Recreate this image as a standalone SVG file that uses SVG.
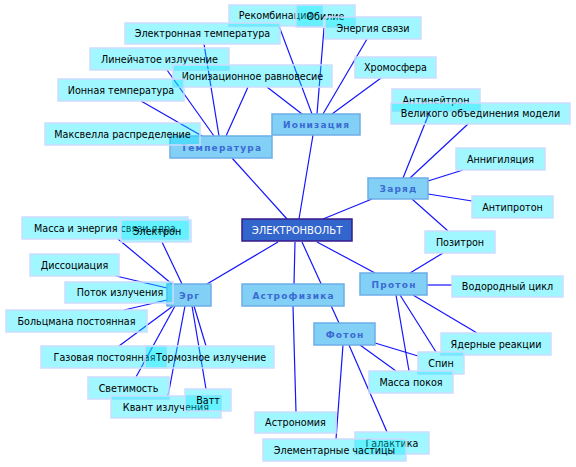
<svg xmlns="http://www.w3.org/2000/svg" width="576" height="467" viewBox="0 0 576 467">
<style>
.edge line{stroke:#1414ff;stroke-width:1.2;fill:none}
.root rect{fill:#3366cc;stroke:#3a1a8c;stroke-width:1.5}
.root text{font-family:"DejaVu Sans",sans-serif;font-size:10px;fill:#ffffff;text-anchor:middle}
.cat rect{fill:#82d0f6;stroke:#6eaee8;stroke-width:1.5}
.cat text{font-family:"DejaVu Sans",sans-serif;font-size:9px;font-weight:bold;fill:#3a6ad2;text-anchor:middle;letter-spacing:1.2px}
.leaf rect{fill:#00e8ff;fill-opacity:0.37;stroke:#cddcff;stroke-width:1.5}
.leaf text{font-family:"DejaVu Sans",sans-serif;font-size:9.6px;fill:#000000;text-anchor:middle}
</style>
<rect width="576" height="467" fill="#ffffff"/>
<g id="connectors" class="edge">
<line x1="287" y1="219" x2="232" y2="158"/>
<line x1="299" y1="219" x2="313" y2="135"/>
<line x1="323" y1="219" x2="372" y2="199"/>
<line x1="278" y1="242" x2="207" y2="284"/>
<line x1="295" y1="242" x2="294" y2="284"/>
<line x1="317" y1="242" x2="375" y2="273"/>
<line x1="302" y1="242" x2="339" y2="323"/>
<line x1="279" y1="26" x2="312" y2="114"/>
<line x1="324" y1="28" x2="317" y2="114"/>
<line x1="367" y1="39" x2="323" y2="114"/>
<line x1="381" y1="78" x2="332" y2="114"/>
<line x1="267" y1="87" x2="302" y2="114"/>
<line x1="204" y1="44" x2="219" y2="136"/>
<line x1="167" y1="70" x2="214" y2="136"/>
<line x1="248" y1="87" x2="226" y2="136"/>
<line x1="141" y1="101" x2="202" y2="136"/>
<line x1="200" y1="135" x2="204" y2="137.5"/>
<line x1="430" y1="111" x2="403" y2="178"/>
<line x1="468" y1="124" x2="410" y2="178"/>
<line x1="463" y1="170" x2="428" y2="181"/>
<line x1="472" y1="201" x2="428" y2="194"/>
<line x1="412" y1="199" x2="448" y2="231"/>
<line x1="443" y1="253" x2="410" y2="273"/>
<line x1="427" y1="285" x2="452" y2="285"/>
<line x1="413" y1="295" x2="477" y2="333"/>
<line x1="400" y1="295" x2="436" y2="352"/>
<line x1="396" y1="295" x2="409" y2="371"/>
<line x1="375" y1="343" x2="418" y2="356"/>
<line x1="360" y1="345" x2="396" y2="371"/>
<line x1="343" y1="345" x2="336" y2="439"/>
<line x1="349" y1="345" x2="387" y2="432"/>
<line x1="293" y1="306" x2="296" y2="412"/>
<line x1="118" y1="239" x2="172" y2="284"/>
<line x1="162" y1="242" x2="182" y2="284"/>
<line x1="116" y1="276" x2="167" y2="288"/>
<line x1="124" y1="310" x2="167" y2="300"/>
<line x1="119" y1="346" x2="173" y2="306"/>
<line x1="136" y1="377" x2="175" y2="306"/>
<line x1="168" y1="396" x2="185" y2="306"/>
<line x1="206" y1="389" x2="192" y2="306"/>
<line x1="206" y1="346" x2="194" y2="306"/>
</g>
<g id="n-root" class="root"><rect x="242" y="219" width="110" height="22"/><text x="297" y="233.5">ЭЛЕКТРОНВОЛЬТ</text></g>
<g id="n-ionization" class="cat"><rect x="272" y="114" width="88" height="21"/><text x="316.6" y="127.5">Ионизация</text></g>
<g id="n-temperature" class="cat"><rect x="170" y="136" width="102" height="22"/><text x="221.6" y="150.5">Температура</text></g>
<g id="n-charge" class="cat"><rect x="368" y="178" width="60" height="21"/><text x="398.6" y="191.5">Заряд</text></g>
<g id="n-erg" class="cat"><rect x="167" y="284" width="44" height="22"/><text x="189.6" y="298.5">Эрг</text></g>
<g id="n-astro" class="cat"><rect x="242" y="284" width="102" height="22"/><text x="293.6" y="298.5">Астрофизика</text></g>
<g id="n-proton" class="cat"><rect x="360" y="273" width="67" height="22"/><text x="394.1" y="287.5">Протон</text></g>
<g id="n-photon" class="cat"><rect x="314" y="323" width="61" height="22"/><text x="345.1" y="337.5">Фотон</text></g>
<g id="n-recomb" class="leaf"><rect x="229" y="5" width="93" height="21"/><text x="275.5" y="19">Рекомбинация</text></g>
<g id="n-abund" class="leaf"><rect x="296" y="5" width="59" height="22"/><text x="325.5" y="19.5">Обилие</text></g>
<g id="n-bind" class="leaf"><rect x="325" y="17" width="96" height="22"/><text x="373" y="31.5">Энергия связи</text></g>
<g id="n-etemp" class="leaf"><rect x="125" y="23" width="155" height="21"/><text x="202.5" y="37">Электронная температура</text></g>
<g id="n-line" class="leaf"><rect x="90" y="48" width="139" height="22"/><text x="159.5" y="62.5">Линейчатое излучение</text></g>
<g id="n-ioneq" class="leaf"><rect x="173" y="65" width="159" height="22"/><text x="252.5" y="79.5">Ионизационное равновесие</text></g>
<g id="n-chromo" class="leaf"><rect x="355" y="57" width="81" height="21"/><text x="395.5" y="71">Хромосфера</text></g>
<g id="n-iontemp" class="leaf"><rect x="58" y="79" width="126" height="22"/><text x="121" y="93.5">Ионная температура</text></g>
<g id="n-maxwell" class="leaf"><rect x="45" y="123" width="155" height="22"/><text x="122.5" y="137.5">Максвелла распределение</text></g>
<g id="n-antineutron" class="leaf"><rect x="392" y="89" width="88" height="22"/><text x="436" y="103.5">Антинейтрон</text></g>
<g id="n-gut" class="leaf"><rect x="391" y="103" width="179" height="21"/><text x="480.5" y="117">Великого объединения модели</text></g>
<g id="n-annih" class="leaf"><rect x="456" y="148" width="89" height="22"/><text x="500.5" y="162.5">Аннигиляция</text></g>
<g id="n-antiproton" class="leaf"><rect x="472" y="196" width="81" height="22"/><text x="512.5" y="210.5">Антипротон</text></g>
<g id="n-positron" class="leaf"><rect x="425" y="231" width="70" height="22"/><text x="460" y="245.5">Позитрон</text></g>
<g id="n-hcycle" class="leaf"><rect x="452" y="276" width="111" height="21"/><text x="507.5" y="290">Водородный цикл</text></g>
<g id="n-nuclear" class="leaf"><rect x="441" y="333" width="110" height="22"/><text x="496" y="347.5">Ядерные реакции</text></g>
<g id="n-spin" class="leaf"><rect x="418" y="352" width="46" height="22"/><text x="441" y="366.5">Спин</text></g>
<g id="n-restmass" class="leaf"><rect x="369" y="371" width="84" height="22"/><text x="411" y="385.5">Масса покоя</text></g>
<g id="n-galaxy" class="leaf"><rect x="355" y="432" width="74" height="22"/><text x="392" y="446.5">Галактика</text></g>
<g id="n-elementary" class="leaf"><rect x="263" y="439" width="143" height="22"/><text x="334.5" y="453.5">Элементарные частицы</text></g>
<g id="n-astronomy" class="leaf"><rect x="255" y="412" width="81" height="21"/><text x="295.5" y="426">Астрономия</text></g>
<g id="n-massenergy" class="leaf"><rect x="22" y="217" width="166" height="22"/><text x="105" y="231.5">Масса и энергия связи ядра</text></g>
<g id="n-electron" class="leaf"><rect x="121" y="220" width="70" height="22"/><text x="157" y="234.5">Электрон</text></g>
<g id="n-dissoc" class="leaf"><rect x="30" y="254" width="89" height="22"/><text x="74.5" y="268.5">Диссоциация</text></g>
<g id="n-flux" class="leaf"><rect x="65" y="282" width="108" height="21"/><text x="120" y="296">Поток излучения</text></g>
<g id="n-boltz" class="leaf"><rect x="6" y="310" width="141" height="22"/><text x="76.5" y="324.5">Больцмана постоянная</text></g>
<g id="n-gas" class="leaf"><rect x="41" y="346" width="125" height="22"/><text x="104.5" y="360.5">Газовая постоянная</text></g>
<g id="n-brems" class="leaf"><rect x="145" y="346" width="129" height="22"/><text x="211" y="360.5">Тормозное излучение</text></g>
<g id="n-lumin" class="leaf"><rect x="88" y="377" width="81" height="22"/><text x="128.5" y="391.5">Светимость</text></g>
<g id="n-quantum" class="leaf"><rect x="111" y="396" width="110" height="22"/><text x="166" y="410.5">Квант излучения</text></g>
<g id="n-watt" class="leaf"><rect x="185" y="389" width="46" height="22"/><text x="208" y="403.5">Ватт</text></g>
</svg>
